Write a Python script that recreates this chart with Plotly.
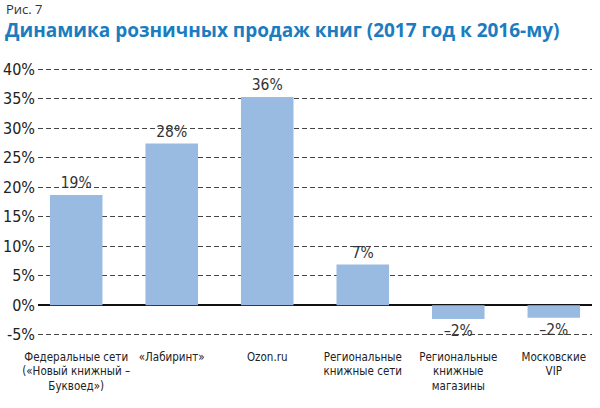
import plotly.graph_objects as go

categories = [
    "Федеральные сети<br>(«Новый книжный –<br>Буквоед»)",
    "«Лабиринт»",
    "Ozon.ru",
    "Региональные<br>книжные сети",
    "Региональные<br>книжные<br>магазины",
    "Московские<br>VIP",
]
values = [18.7, 27.4, 35.3, 6.9, -2.3, -2.1]
value_labels = ["19%", "28%", "36%", "7%", "–2%", "–2%"]
y_ticks = [-5, 0, 5, 10, 15, 20, 25, 30, 35, 40]
y_tick_text = ["-5%", "0%", "5%", "10%", "15%", "20%", "25%", "30%", "35%", "40%"]

font_narrow = "DejaVu Sans Condensed, Liberation Sans Narrow, sans-serif"

fig = go.Figure()
fig.add_bar(
    x=list(range(len(categories))),
    y=values,
    text=value_labels,
    textposition="outside",
    cliponaxis=False,
    textfont=dict(family=font_narrow, size=15.5, color="#333333"),
    marker=dict(color="#99bbe1", line=dict(width=0)),
)

# plot area is 268 px tall, 554 px wide -> annotations above it in paper units
fig.update_layout(
    width=600,
    height=408,
    margin=dict(l=38, r=8, t=68, b=72, autoexpand=False),
    paper_bgcolor="white",
    plot_bgcolor="white",
    bargap=0.45,
    showlegend=False,
    annotations=[
        dict(text="Рис. 7", x=-0.062, y=1.263, xref="paper", yref="paper",
             xanchor="left", yanchor="top", showarrow=False,
             font=dict(family="Open Sans, sans-serif", size=13, color="#333333")),
        dict(text="<b>Динамика розничных продаж книг (2017 год к 2016-му)</b>",
             x=-0.064, y=1.199, xref="paper", yref="paper",
             xanchor="left", yanchor="top", showarrow=False,
             font=dict(family="Open Sans, sans-serif", size=19, color="#1a7dbf")),
    ],
    xaxis=dict(
        tickmode="array",
        tickvals=list(range(len(categories))),
        ticktext=categories,
        range=[-0.4, 5.4],
        showgrid=False,
        showline=False,
        zeroline=False,
        ticks="",
        automargin=False,
        tickfont=dict(family=font_narrow, size=11.5, color="#222222"),
        tickangle=0,
        ticklabelstandoff=12,
    ),
    yaxis=dict(
        range=[-5.2, 40.2],
        tickmode="array",
        tickvals=y_ticks,
        ticktext=y_tick_text,
        showgrid=True,
        gridcolor="#444444",
        griddash="5px,3px",
        gridwidth=1,
        zeroline=True,
        zerolinecolor="#111111",
        zerolinewidth=1.5,
        showline=False,
        automargin=False,
        tickfont=dict(family=font_narrow, size=16, color="#222222"),
        ticklabelstandoff=2,
    ),
)

fig.write_html("out.html", config={"displayModeBar": False},
               post_script="document.body.style.margin='0';")
